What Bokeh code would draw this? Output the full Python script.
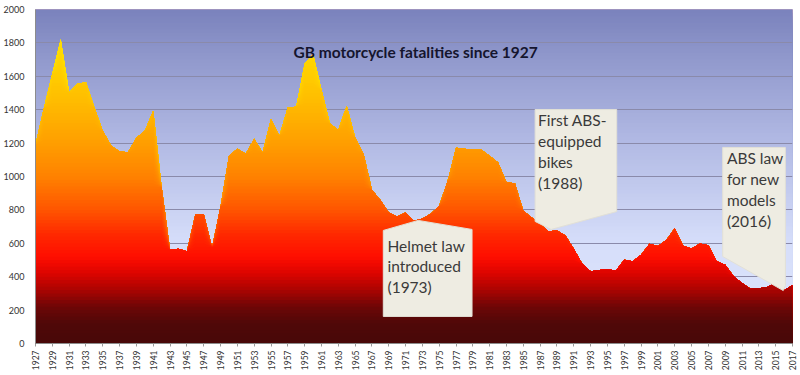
import numpy as np
from bokeh.plotting import figure
from bokeh.models import Range1d, FixedTicker, Label
from bokeh.embed import file_html
from bokeh.resources import INLINE

# ---------------- data ----------------
years = list(range(1927, 2018))
fatalities = [
    1190, 1410, 1615, 1822, 1503, 1555, 1565, 1413, 1274, 1184,   # 1927-1936
    1150, 1145, 1232, 1274, 1394, 935, 562, 568, 552, 771,        # 1937-1946
    775, 576, 820, 1124, 1166, 1136, 1226, 1144, 1346, 1244,      # 1947-1956
    1413, 1417, 1675, 1734, 1520, 1318, 1280, 1423, 1234, 1136,   # 1957-1966
    920, 860, 785, 760, 785, 735, 748, 777, 825, 975,             # 1967-1976
    1172, 1166, 1160, 1160, 1124, 1084, 965, 960, 795, 755,       # 1977-1986
    716, 672, 676, 646, 568, 478, 432, 440, 445, 437,             # 1987-1996
    502, 492, 532, 598, 584, 620, 690, 585, 569, 599,             # 1997-2006
    588, 493, 472, 403, 362, 328, 331, 339, 365, 319,             # 2007-2016
    349,                                                          # 2017
]
assert len(fatalities) == len(years)
x_tick_years = list(range(1927, 2018, 2))
y_ticks = list(range(0, 2001, 200))

title_text = "GB motorcycle fatalities since 1927"
callout_texts = [
    "Helmet law\nintroduced\n(1973)",
    "First ABS-\nequipped\nbikes\n(1988)",
    "ABS law\nfor new\nmodels\n(2016)",
]

# ---------------- style ----------------
FONT = "Lato"
area_stops = [
    (0, (72, 8, 8)), (120, (80, 8, 8)), (220, (110, 6, 6)), (320, (170, 4, 2)),
    (420, (220, 4, 0)), (520, (255, 14, 0)), (650, (255, 40, 0)), (800, (255, 85, 0)),
    (1000, (255, 130, 0)), (1200, (255, 158, 0)), (1400, (255, 182, 0)),
    (1600, (255, 204, 0)), (1850, (255, 224, 0)), (2000, (255, 232, 10)),
]
bg_stops = [
    (0, (222, 230, 252)), (600, (214, 222, 250)), (1200, (178, 186, 228)),
    (1700, (145, 153, 205)), (2000, (122, 130, 188)),
]


def interp(stops, v):
    for (v0, c0), (v1, c1) in zip(stops[:-1], stops[1:]):
        if v0 <= v <= v1:
            t = (v - v0) / (v1 - v0)
            return "#%02x%02x%02x" % tuple(int(round(a + (b - a) * t)) for a, b in zip(c0, c1))
    c = stops[-1][1] if v > stops[-1][0] else stops[0][1]
    return "#%02x%02x%02x" % c


p = figure(width=800, height=375, output_backend="svg", toolbar_location=None,
           x_range=Range1d(1927, 2017), y_range=Range1d(0, 2000),
           min_border_left=33, min_border_right=8, min_border_top=9, min_border_bottom=32)
p.border_fill_color = "white"
p.background_fill_color = "white"
p.outline_line_color = "#a898c0"
p.outline_line_width = 1

# background gradient (layered, drawn beneath the grid)
step = 20
tops = list(np.arange(2000, 0, -step))
p.quad(left=[1927] * len(tops), right=[2017] * len(tops), bottom=[0] * len(tops), top=tops,
       fill_color=[interp(bg_stops, t - step / 2) for t in tops], line_color=None, level="image")

# gradient-filled area: layers clipped at decreasing heights
vals = np.array(fatalities, dtype=float)
for b in np.arange(2000, 0, -step):
    p.varea(x=years, y1=np.zeros(len(years)), y2=np.minimum(vals, b),
            fill_color=interp(area_stops, b - step / 2))

# grid
p.xgrid.grid_line_color = None
p.ygrid.ticker = FixedTicker(ticks=y_ticks)
p.ygrid.grid_line_color = "#8a8aaa"
p.ygrid.grid_line_width = 1

# axes
p.yaxis.ticker = FixedTicker(ticks=y_ticks)
p.yaxis.major_label_text_font = FONT
p.yaxis.major_label_text_font_size = "9px"
p.yaxis.major_label_text_color = "#333333"
p.yaxis.major_tick_line_color = None
p.yaxis.minor_tick_line_color = None
p.yaxis.axis_line_color = "#8c8c8c"
p.yaxis.major_label_standoff = 5

p.xaxis.ticker = FixedTicker(ticks=x_tick_years, minor_ticks=years)
p.xaxis.major_label_orientation = np.pi / 2
p.xaxis.major_label_text_font = FONT
p.xaxis.major_label_text_font_size = "8.5px"
p.xaxis.major_label_text_color = "#333333"
p.xaxis.major_tick_in = 0
p.xaxis.major_tick_out = 3
p.xaxis.major_tick_line_color = "#9a9a9a"
p.xaxis.minor_tick_line_color = None
p.xaxis.axis_line_color = "#8c8c8c"
p.xaxis.major_label_standoff = 3

# callout shapes (layout positions in data units)
callout_shapes = [
    ([1968.35, 1972.5, 1978.9, 1978.9, 1968.35], [677, 737, 683, 162, 162]),
    ([1986.4, 1996.1, 1996.1, 1988.3, 1986.4], [1401, 1401, 790, 683, 731]),
    ([2008.7, 2016.15, 2016.15, 2015.9, 2008.7], [1174, 1174, 347, 317, 521]),
]
text_pos = [(1968.85, 640), (1986.75, 1390), (2009.2, 1165)]
for (xs, ys), txt, (tx, ty) in zip(callout_shapes, callout_texts, text_pos):
    p.patch(xs, ys, fill_color="#eeece2", line_color="#e2e0d6", line_width=1)
    p.add_layout(Label(x=tx, y=ty, text=txt, text_font=FONT, text_font_size="15.5px",
                       text_color="#3a3a3a", text_align="left", text_baseline="top",
                       text_line_height=1.16))

p.add_layout(Label(x=1972.2, y=1744, text=title_text, text_font=FONT,
                   text_font_size="15.5px", text_font_style="bold", text_color="#15152e",
                   text_align="center", text_baseline="alphabetic"))

open("out.html", "w").write(file_html(p, INLINE))
